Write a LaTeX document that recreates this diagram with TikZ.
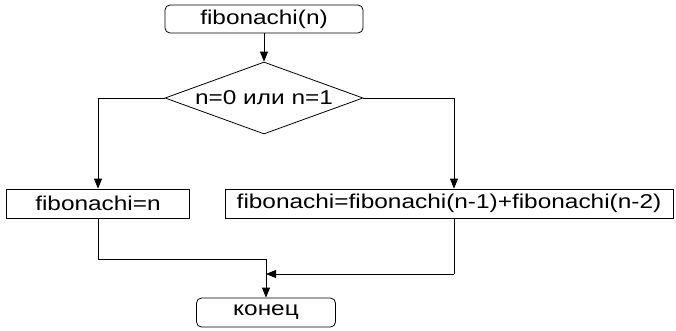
\documentclass[tikz,border=0pt]{standalone}
\usepackage{fontspec}
\setmainfont{Liberation Sans}[FakeStretch=1.22]
\usetikzlibrary{shapes.geometric,arrows.meta}
\begin{document}
\begin{tikzpicture}[x=1pt,y=-1pt,
  line width=0.8pt,
  font=\fontsize{20}{22}\selectfont,
  terminal/.style={draw, rounded corners=5pt, inner sep=0pt},
  action/.style={draw, rectangle, inner sep=0pt},
  decision/.style={draw, diamond, aspect=2.75, inner sep=0pt,
                   minimum width=198pt, minimum height=72pt},
  flow/.style={-{Triangle[length=10pt,width=8pt]}}]
\useasboundingbox (0,0) rectangle (676,330);

% blocks
\node[terminal, minimum width=198pt, minimum height=28pt] (start) at (264,19) {fibonachi(n)};
\node[decision] (cond) at (264,98) {n=0 или n=1};
\node[action, minimum width=183pt, minimum height=29pt] (base) at (98,203.5) {fibonachi=n};
\node[action, minimum width=448pt, minimum height=29pt] (rec) at (449,203.5) {fibonachi=fibonachi(n-1)+fibonachi(n-2)};
\node[terminal, minimum width=139pt, minimum height=29pt] (stop) at (266,312.5) {конец};

% junction points
\coordinate (lj) at (98,259);
\coordinate (rj) at (454,274);
\coordinate (mj) at (266,274);

% connectors
\draw[flow] (start) -- (cond.north);
\draw[flow] (cond.west) -| (base.north);
\draw[flow] (cond.east) -| (rj |- rec.north);
\draw (base.south) -- (lj) -| (mj);
\draw[flow] (mj) -- (stop.north);
\draw (rj |- rec.south) -- (rj);
\draw[flow] (rj) -- (mj);
\end{tikzpicture}
\end{document}
